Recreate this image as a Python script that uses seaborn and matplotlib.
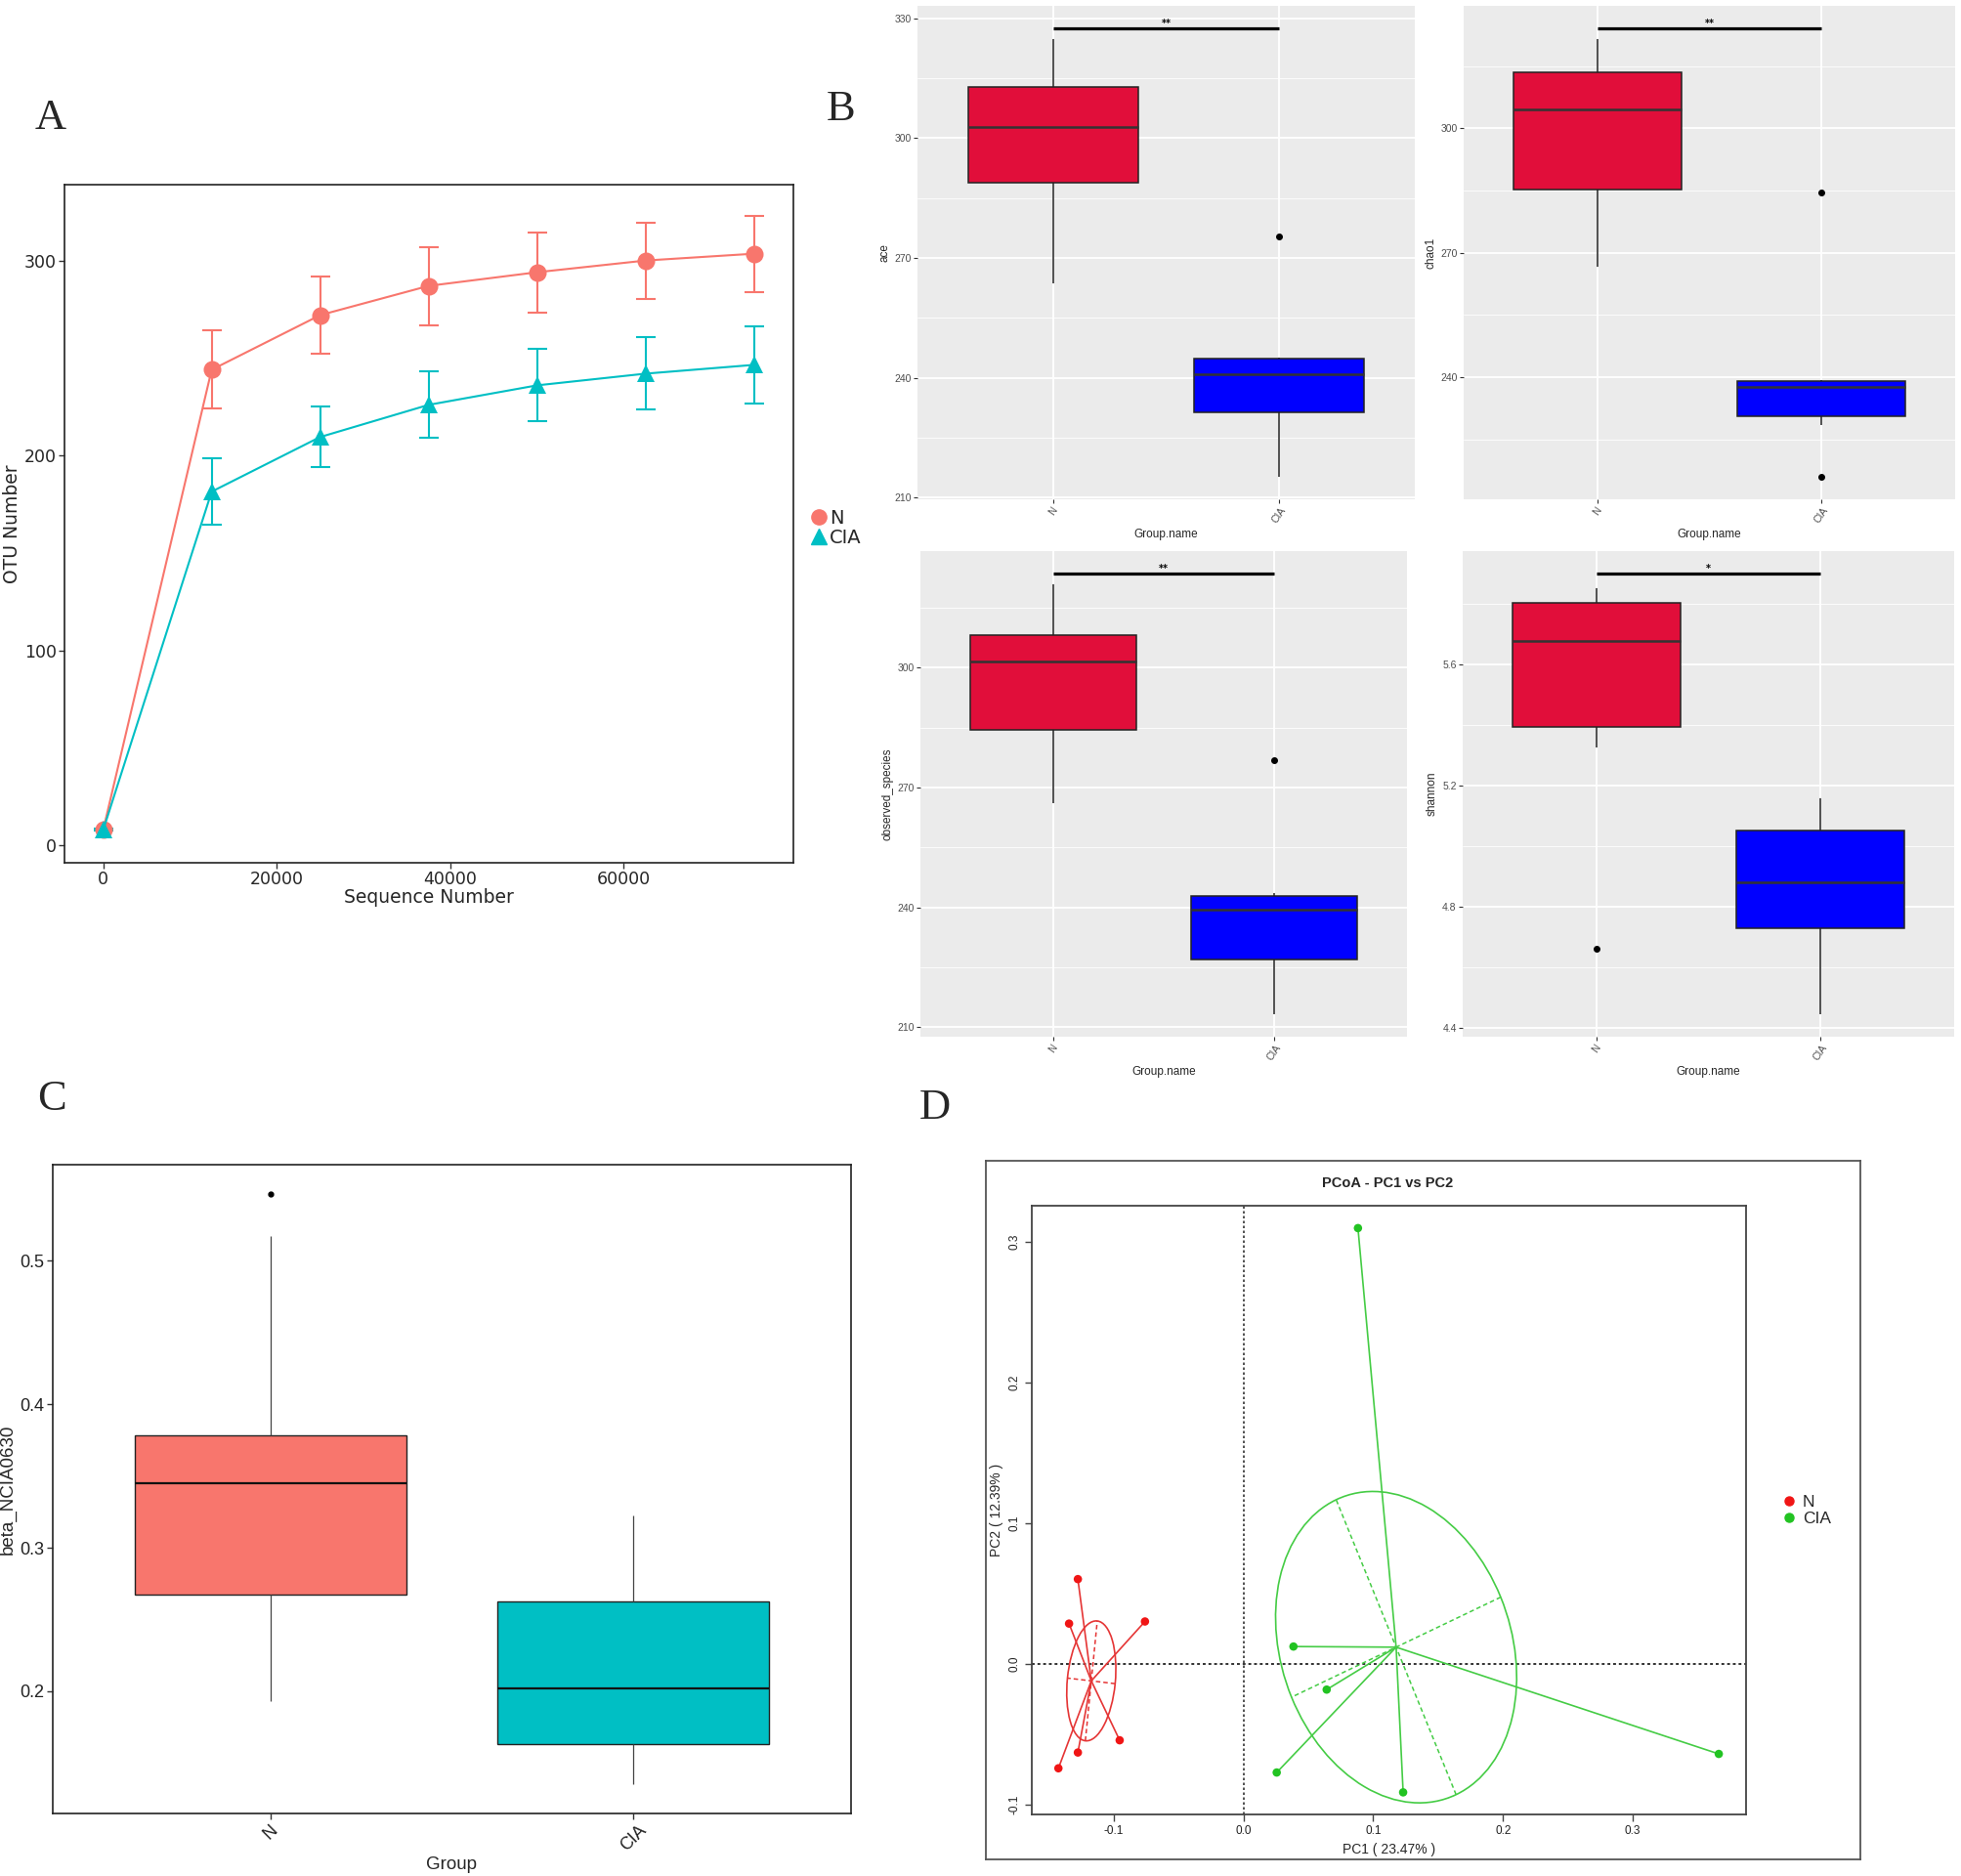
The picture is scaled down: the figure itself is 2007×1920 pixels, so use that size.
import numpy as np
import pandas as pd
import seaborn as sns
import matplotlib.pyplot as plt
from matplotlib.lines import Line2D
from matplotlib.patches import Ellipse
from matplotlib.ticker import MultipleLocator, FormatStrFormatter

# ---- A: rarefaction curves (mean +/- error) ----
seq_numbers = [0, 12500, 25000, 37500, 50000, 62500, 75000]
otu_n = [8, 244, 272, 287, 294, 300, 303.5]
otu_n_err = [0.5, 20, 20, 20, 20.5, 19.5, 19.5]
otu_cia = [8, 181.5, 209.5, 226, 236, 242, 246.5]
otu_cia_err = [0.5, 17, 15.5, 17, 18.5, 18.5, 20]

# ---- B: alpha diversity, 6 samples per group ----
groups = ['N', 'CIA']
ace_n = [263.6, 286.5, 296.0, 309.8, 313.7, 324.8]
ace_cia = [215.2, 229.2, 238.0, 243.8, 245.0, 275.4]
chao1_n = [266.7, 280.3, 300.0, 309.2, 314.8, 321.4]
chao1_cia = [216.0, 228.4, 236.8, 238.6, 239.4, 284.6]
obs_n = [266.1, 280.2, 297.0, 306.0, 308.8, 321.0]
obs_cia = [213.2, 223.3, 238.1, 240.9, 243.7, 277.0]
shannon_n = [4.661, 5.326, 5.594, 5.760, 5.819, 5.851]
shannon_cia = [4.445, 4.707, 4.800, 4.964, 5.080, 5.159]
alpha_metrics = ['ace', 'chao1', 'observed_species', 'shannon']
sig_marks = ['**', '**', '**', '*']
sig_heights = [327.5, 324.1, 323.7, 5.901]

# ---- C: beta diversity (pairwise distances within group) ----
beta_n = [0.1934, 0.225, 0.250, 0.262, 0.273, 0.300, 0.330, 0.3452,
          0.352, 0.365, 0.373, 0.384, 0.430, 0.5175, 0.5464]
beta_cia = [0.1354, 0.145, 0.155, 0.160, 0.167, 0.178, 0.190, 0.2018,
            0.215, 0.235, 0.255, 0.2706, 0.285, 0.300, 0.3226]

# ---- D: PCoA coordinates ----
pc1_n = [-0.1276, -0.1344, -0.0759, -0.0954, -0.1276, -0.1426]
pc2_n = [0.0603, 0.0287, 0.0302, -0.0542, -0.0629, -0.0741]
pc1_cia = [0.0882, 0.0385, 0.0641, 0.0256, 0.1230, 0.3662]
pc2_cia = [0.3097, 0.0124, -0.0182, -0.0771, -0.0912, -0.0639]

gg_colors = {'N': '#F8766D', 'CIA': '#00BFC4'}
alpha_colors = {'N': '#E10E3A', 'CIA': '#0000FF'}
pcoa_colors = {'N': '#F01515', 'CIA': '#22C322'}
pcoa_line_colors = {'N': '#E53535', 'CIA': '#45CC45'}

sns.set_theme(style='white')
plt.rcParams['font.family'] = ['DejaVu Sans']
plt.rcParams['axes.unicode_minus'] = False
SANS = 'Liberation Sans'
NARROW = ['Liberation Sans Narrow', 'Liberation Sans']
SERIF = 'Liberation Serif'

W, H = 2008, 1920
fig = plt.figure(figsize=(W / 100, H / 100), dpi=100)


def px_axes(x0, y0, x1, y1):
    return fig.add_axes([x0 / W, 1 - y1 / H, (x1 - x0) / W, (y1 - y0) / H])


for letter, (lx, ly) in zip('ABCD', [(52, 121), (861, 112), (53, 1125), (957, 1134)]):
    fig.text(lx / W, 1 - ly / H, letter, family=SERIF, fontsize=32,
             ha='center', va='center')

# ---------------- Panel A ----------------
axA = px_axes(66, 189, 812, 883)
curve_df = pd.DataFrame({
    'seq': seq_numbers * 2,
    'otu': otu_n + otu_cia,
    'group': ['N'] * len(otu_n) + ['CIA'] * len(otu_cia),
})
for vals, errs, g in [(otu_n, otu_n_err, 'N'), (otu_cia, otu_cia_err, 'CIA')]:
    axA.errorbar(seq_numbers, vals, yerr=errs, fmt='none', ecolor=gg_colors[g],
                 elinewidth=1.5, capsize=7, capthick=1.5, zorder=1)
sns.lineplot(data=curve_df, x='seq', y='otu', hue='group', style='group',
             hue_order=groups, style_order=groups, palette=gg_colors,
             markers={'N': 'o', 'CIA': '^'}, dashes=False, markersize=13,
             markeredgewidth=0, linewidth=1.5, legend=False, ax=axA, zorder=3)
axA.set_xlim(-4460, 79540)
axA.set_ylim(-8.8, 338.9)
axA.xaxis.set_major_locator(MultipleLocator(20000))
axA.yaxis.set_major_locator(MultipleLocator(100))
axA.set_xlabel('Sequence Number', fontsize=13.5, labelpad=0)
axA.set_ylabel('OTU Number', fontsize=13.5, labelpad=2)
axA.tick_params(labelsize=12.5, length=4, width=1, color='#333333', pad=2,
                direction='out', bottom=True, left=True)
for s in axA.spines.values():
    s.set_color('#222222')
    s.set_linewidth(1.2)
leg_handles = [Line2D([], [], marker='o', ls='', color=gg_colors['N'], markersize=11),
               Line2D([], [], marker='^', ls='', color=gg_colors['CIA'], markersize=12)]
axA.legend(leg_handles, groups, loc='center left', bbox_to_anchor=(1.025, 0.494),
           frameon=False, fontsize=14, handlelength=0.8, handletextpad=0.15,
           labelspacing=0.05, borderpad=0, borderaxespad=0)

# ---------------- Panel B ----------------
alpha_df = pd.DataFrame({
    'group': ['N'] * 6 + ['CIA'] * 6,
    'ace': ace_n + ace_cia,
    'chao1': chao1_n + chao1_cia,
    'observed_species': obs_n + obs_cia,
    'shannon': shannon_n + shannon_cia,
})
b_boxes = [(939, 6, 1448, 511), (1498, 6, 2001, 511),
           (942, 564, 1440, 1061), (1497, 564, 2000, 1061)]
b_steps = [30, 30, 30, 0.4]
for metric, box, step, mark, sig_y in zip(alpha_metrics, b_boxes, b_steps,
                                          sig_marks, sig_heights):
    ax = px_axes(*box)
    ax.set_facecolor('#EBEBEB')
    sns.boxplot(data=alpha_df, x='group', y=metric, hue='group', order=groups,
                hue_order=groups, palette=alpha_colors, saturation=1, width=0.75,
                dodge=False, linewidth=1.1, linecolor='#222222', showcaps=False,
                legend=False,
                medianprops=dict(color='#333333', linewidth=1.8),
                flierprops=dict(marker='o', markersize=4, markerfacecolor='black',
                                markeredgecolor='black'),
                ax=ax)
    ax.plot([0, 1], [sig_y, sig_y], color='black', lw=2.3, solid_capstyle='butt')
    ax.text(0.5, sig_y, mark, ha='center', va='bottom', fontsize=7,
            fontweight='bold', color='black')
    lo = alpha_df[metric].min()
    pad = 0.05 * (sig_y - lo)
    ax.set_ylim(lo - pad, sig_y + pad)
    ax.set_xlim(-0.6, 1.6)
    ax.yaxis.set_major_locator(MultipleLocator(step))
    ax.yaxis.set_minor_locator(MultipleLocator(step / 2))
    if step < 1:
        ax.yaxis.set_major_formatter(FormatStrFormatter('%.1f'))
    ax.set_axisbelow(True)
    ax.grid(which='major', color='white', lw=1.3)
    ax.grid(which='minor', axis='y', color='white', lw=0.6)
    for s in ax.spines.values():
        s.set_visible(False)
    ax.tick_params(axis='both', which='major', length=3, width=0.8, color='#333333',
                   labelsize=7.5, labelcolor='#4D4D4D', pad=1.5,
                   labelfontfamily=SANS, bottom=True, left=True)
    ax.tick_params(axis='y', which='minor', length=0)
    ax.tick_params(axis='x', labelrotation=55)
    for lab in ax.get_xticklabels():
        lab.set_ha('center')
        lab.set_va('top')
    ax.set_xlabel('Group.name', fontsize=8.5, family=SANS, labelpad=3)
    ax.set_ylabel(metric, fontsize=8.5, family=SANS, labelpad=3)

# ---------------- Panel C ----------------
axC = px_axes(54, 1192, 871, 1856)
beta_df = pd.DataFrame({
    'group': ['N'] * len(beta_n) + ['CIA'] * len(beta_cia),
    'beta': beta_n + beta_cia,
})
sns.boxplot(data=beta_df, x='group', y='beta', hue='group', order=groups,
            hue_order=groups, palette=gg_colors, saturation=1, width=0.75,
            dodge=False, linewidth=1.0, linecolor='#222222', showcaps=False,
            legend=False,
            medianprops=dict(color='#111111', linewidth=1.6),
            whiskerprops=dict(color='#444444', linewidth=0.9),
            flierprops=dict(marker='o', markersize=3.5, markerfacecolor='black',
                            markeredgecolor='black'),
            ax=axC)
lo, hi = beta_df['beta'].min(), beta_df['beta'].max()
padC = 0.05 * (hi - lo)
axC.set_ylim(lo - padC, hi + padC)
axC.set_xlim(-0.6, 1.6)
axC.yaxis.set_major_locator(MultipleLocator(0.1))
axC.yaxis.set_major_formatter(FormatStrFormatter('%.1f'))
for s in axC.spines.values():
    s.set_color('#222222')
    s.set_linewidth(1.2)
axC.tick_params(labelsize=13, length=4, width=1, color='#333333', pad=2,
                labelcolor='#222222', labelfontfamily=SANS, bottom=True, left=True)
axC.tick_params(axis='x', labelrotation=45)
axC.set_xlabel('Group', fontsize=13.5, family=SANS, labelpad=2)
axC.set_ylabel('beta_NCIA0630', fontsize=13.5, family=SANS, labelpad=3)

# ---------------- Panel D ----------------
axD_frame = px_axes(1009, 1188, 1904, 1903)
axD_frame.set_xticks([])
axD_frame.set_yticks([])
for s in axD_frame.spines.values():
    s.set_color('#555555')
    s.set_linewidth(1.3)

axD = px_axes(1056, 1234, 1787, 1857)
pcoa_df = pd.DataFrame({
    'PC1': pc1_n + pc1_cia,
    'PC2': pc2_n + pc2_cia,
    'group': ['N'] * len(pc1_n) + ['CIA'] * len(pc1_cia),
})
axD.axhline(0, color='#333333', ls=(0, (1.5, 1.5)), lw=1.4, zorder=1)
axD.axvline(0, color='#333333', ls=(0, (1.5, 1.5)), lw=1.2, zorder=1)
ellipse_scale = 0.733
for g in groups:
    sub = pcoa_df[pcoa_df['group'] == g]
    cx, cy = sub['PC1'].mean(), sub['PC2'].mean()
    col = pcoa_line_colors[g]
    for x, y in zip(sub['PC1'], sub['PC2']):
        axD.plot([cx, x], [cy, y], color=col, lw=1.2, zorder=2)
    vals, vecs = np.linalg.eigh(np.cov(sub['PC1'], sub['PC2']))
    radii = ellipse_scale * np.sqrt(vals)
    angle = np.degrees(np.arctan2(vecs[1, 1], vecs[0, 1]))
    axD.add_patch(Ellipse((cx, cy), 2 * radii[1], 2 * radii[0], angle=angle,
                          fill=False, edgecolor=col, lw=1.2, zorder=2))
    for i in range(2):
        d = radii[i] * vecs[:, i]
        axD.plot([cx - d[0], cx + d[0]], [cy - d[1], cy + d[1]], color=col,
                 lw=1.1, ls=(0, (3, 2)), zorder=2)
sns.scatterplot(data=pcoa_df, x='PC1', y='PC2', hue='group', hue_order=groups,
                palette=pcoa_colors, s=38, edgecolor='none', legend=False,
                ax=axD, zorder=3)
axD.set_xlim(-0.1631, 0.3872)
axD.set_ylim(-0.1069, 0.3256)
axD.xaxis.set_major_locator(MultipleLocator(0.1))
axD.yaxis.set_major_locator(MultipleLocator(0.1))
axD.xaxis.set_major_formatter(FormatStrFormatter('%.1f'))
axD.yaxis.set_major_formatter(FormatStrFormatter('%.1f'))
for s in axD.spines.values():
    s.set_color('#444444')
    s.set_linewidth(1.3)
axD.tick_params(labelsize=8.5, length=5, width=1, color='#444444', pad=3,
                labelcolor='#222222', labelfontfamily=NARROW,
                direction='out', bottom=True, left=True)
axD.tick_params(axis='y', labelrotation=90)
for lab in axD.get_yticklabels():
    lab.set_va('center')
axD.set_xlabel('PC1 ( 23.47% )', fontsize=10, family=NARROW, labelpad=4)
axD.set_ylabel('PC2 ( 12.39% )', fontsize=10, family=NARROW, labelpad=4)
fig.text(1420 / W, 1 - 1211 / H, 'PCoA - PC1 vs PC2', family=NARROW,
         fontsize=10.5, fontweight='bold', ha='center', va='center')
d_handles = [Line2D([], [], marker='o', ls='', color=pcoa_colors[g], markersize=6.5)
             for g in groups]
axD.legend(d_handles, groups, loc='center left', frameon=False,
           bbox_to_anchor=(1826 / W, 1 - 1546 / H), bbox_transform=fig.transFigure,
           prop={'family': NARROW, 'size': 12.5}, handlelength=0.6,
           handletextpad=0.5, labelspacing=0.1, borderpad=0, borderaxespad=0)

fig.savefig('out.png', dpi=100)
